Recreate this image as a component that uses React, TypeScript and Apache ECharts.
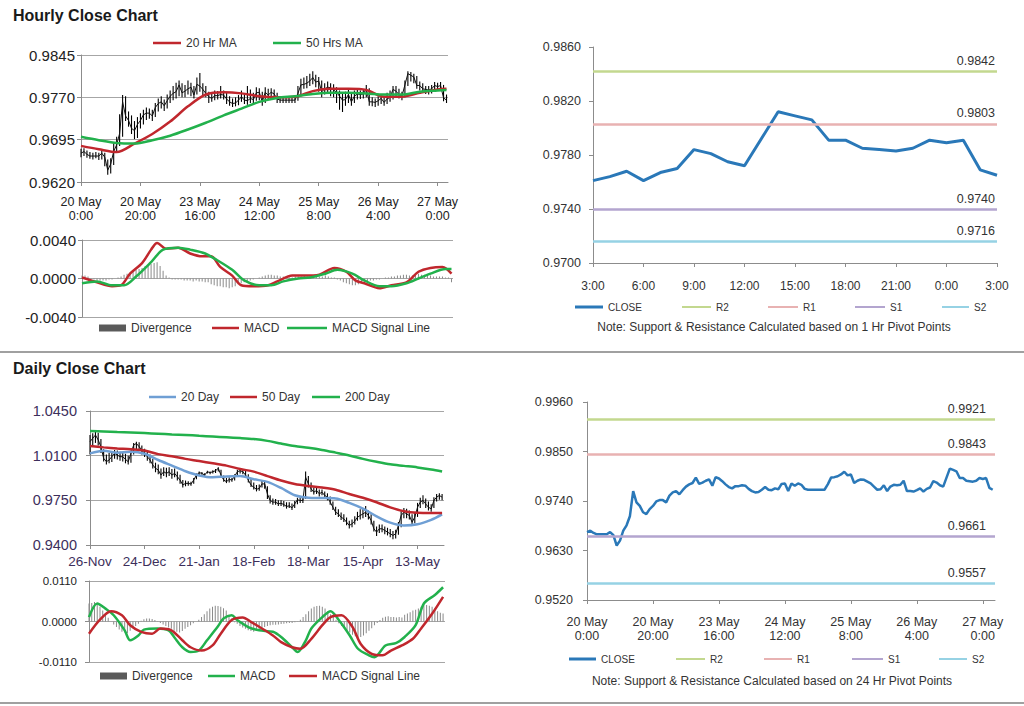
import React, { useEffect, useRef } from "react";
import * as echarts from "echarts";

const FONT = '"Liberation Sans", Arial, Helvetica, sans-serif';

// ---------------- Hourly data (20 May 0:00 .. 27 May 3:00) ----------------
const hourlyTickIdx = [0, 20, 40, 60, 80, 100, 120];
const hourlyTickLabels = ["20 May\n0:00", "20 May\n20:00", "23 May\n16:00", "24 May\n12:00", "25 May\n8:00", "26 May\n4:00", "27 May\n0:00"];

const hourlyClose = [
  0.9671, 0.9674, 0.9669, 0.9666, 0.9666, 0.9666, 0.9666, 0.9671, 0.9664, 0.9641,
  0.9652, 0.9674, 0.9686, 0.9706, 0.9762, 0.9737, 0.9729, 0.9715, 0.9711, 0.9722,
  0.9729, 0.9739, 0.9742, 0.9742, 0.9737, 0.9752, 0.9759, 0.9762, 0.9755, 0.9764,
  0.9772, 0.9777, 0.9780, 0.9792, 0.9778, 0.9781, 0.9785, 0.9788, 0.9774, 0.9793,
  0.9790, 0.9784, 0.9777, 0.9771, 0.9768, 0.9773, 0.9773, 0.9775, 0.9774, 0.9767,
  0.9762, 0.9759, 0.9760, 0.9765, 0.9771, 0.9765, 0.9764, 0.9768, 0.9766, 0.9778,
  0.9779, 0.9762, 0.9779, 0.9774, 0.9779, 0.9776, 0.9767, 0.9765, 0.9765, 0.9765,
  0.9765, 0.9765, 0.9765, 0.9777, 0.9792, 0.9793, 0.9795, 0.9799, 0.9805, 0.9797,
  0.9799, 0.9780, 0.9785, 0.9788, 0.9787, 0.9783, 0.9779, 0.9772, 0.9765, 0.9766,
  0.9775, 0.9762, 0.9772, 0.9776, 0.9775, 0.9776, 0.9785, 0.9762, 0.9762,
  0.9761, 0.9764, 0.9768, 0.9761, 0.9767, 0.9770, 0.9784, 0.9781, 0.9775, 0.9772,
  0.9792, 0.9812, 0.9809, 0.9806, 0.9791, 0.9791, 0.9785, 0.9784, 0.9783, 0.9785,
  0.9791, 0.9789, 0.9791, 0.9769, 0.9765,
];
const hourlyHigh = [
  0.9679, 0.9680, 0.9676, 0.9673, 0.9672, 0.9673, 0.9672, 0.9676, 0.9672, 0.9660,
  0.9662, 0.9690, 0.9700, 0.9740, 0.9774, 0.9772, 0.9745, 0.9738, 0.9728, 0.9735,
  0.9742, 0.9748, 0.9752, 0.9750, 0.9748, 0.9760, 0.9768, 0.9772, 0.9766, 0.9775,
  0.9782, 0.9790, 0.9796, 0.9800, 0.9795, 0.9792, 0.9800, 0.9796, 0.9790, 0.9805,
  0.9813, 0.9795, 0.9790, 0.9780, 0.9778, 0.9782, 0.9781, 0.9790, 0.9782, 0.9778,
  0.9772, 0.9768, 0.9770, 0.9774, 0.9782, 0.9775, 0.9790, 0.9784, 0.9778, 0.9788,
  0.9786, 0.9780, 0.9788, 0.9785, 0.9786, 0.9784, 0.9778, 0.9772, 0.9770, 0.9770,
  0.9770, 0.9770, 0.9770, 0.9790, 0.9803, 0.9805, 0.9808, 0.9812, 0.9816, 0.9810,
  0.9806, 0.9800, 0.9795, 0.9798, 0.9795, 0.9793, 0.9788, 0.9782, 0.9778, 0.9780,
  0.9785, 0.9778, 0.9782, 0.9785, 0.9782, 0.9784, 0.9792, 0.9786, 0.9770,
  0.9768, 0.9772, 0.9776, 0.9772, 0.9778, 0.9782, 0.9790, 0.9790, 0.9785, 0.9780,
  0.9800, 0.9816, 0.9815, 0.9812, 0.9808, 0.9798, 0.9795, 0.9790, 0.9790, 0.9792,
  0.9797, 0.9796, 0.9797, 0.9792, 0.9775,
];
const hourlyLow = [
  0.9664, 0.9666, 0.9663, 0.9661, 0.9660, 0.9662, 0.9659, 0.9660, 0.9648, 0.9633,
  0.9635, 0.9650, 0.9672, 0.9684, 0.9700, 0.9728, 0.9718, 0.9705, 0.9696, 0.9698,
  0.9715, 0.9722, 0.9730, 0.9732, 0.9728, 0.9735, 0.9745, 0.9750, 0.9746, 0.9750,
  0.9760, 0.9765, 0.9768, 0.9772, 0.9770, 0.9770, 0.9775, 0.9772, 0.9768, 0.9775,
  0.9780, 0.9772, 0.9770, 0.9760, 0.9762, 0.9765, 0.9766, 0.9768, 0.9766, 0.9758,
  0.9755, 0.9753, 0.9754, 0.9756, 0.9762, 0.9758, 0.9757, 0.9760, 0.9758, 0.9764,
  0.9765, 0.9755, 0.9760, 0.9766, 0.9768, 0.9768, 0.9760, 0.9760, 0.9760, 0.9760,
  0.9760, 0.9760, 0.9760, 0.9764, 0.9774, 0.9785, 0.9786, 0.9790, 0.9793, 0.9788,
  0.9780, 0.9770, 0.9775, 0.9778, 0.9772, 0.9770, 0.9760, 0.9748, 0.9744, 0.9755,
  0.9760, 0.9755, 0.9760, 0.9766, 0.9767, 0.9768, 0.9770, 0.9755, 0.9754,
  0.9753, 0.9755, 0.9758, 0.9755, 0.9758, 0.9762, 0.9766, 0.9772, 0.9768, 0.9765,
  0.9770, 0.9790, 0.9798, 0.9795, 0.9785, 0.9782, 0.9778, 0.9776, 0.9775, 0.9777,
  0.9780, 0.9781, 0.9782, 0.9763, 0.9760,
];

const hourlyMaIdx = [0, 6, 12, 18, 24, 30, 36, 42, 48, 54, 60, 66, 72, 78, 84, 90, 96, 102, 108, 114, 120, 123];
const hourlyMa20 = [0.9684, 0.9678, 0.9673, 0.9688, 0.9705, 0.9727, 0.9754, 0.9775, 0.9779, 0.9777, 0.9772, 0.9770, 0.9771, 0.9781, 0.9785, 0.9785, 0.9783, 0.9771, 0.9771, 0.9778, 0.9784, 0.9785];
const hourlyMa50 = [0.9700, 0.9694, 0.9689, 0.9688, 0.9694, 0.9702, 0.9713, 0.9725, 0.9738, 0.9750, 0.9762, 0.9769, 0.9772, 0.9776, 0.9778, 0.9778, 0.9777, 0.9775, 0.9775, 0.9780, 0.9782, 0.9783];

const hourlyMacdIdx = [0, 5, 10, 13, 16, 20, 23, 25, 28, 32, 36, 40, 43, 46, 50, 53, 57, 62, 65, 70, 74, 79, 84, 88, 91, 94, 99, 103, 108, 112, 116, 120, 123];
const hourlyMacd = [0.0001, -0.0004, -0.0008, -0.0007, 0.0005, 0.0016, 0.0030, 0.0037, 0.0031, 0.0032, 0.0026, 0.0023, 0.0023, 0.0012, 0.0003, -0.0007, -0.0008, -0.0007, -0.0003, 0.0003, 0.0003, 0.0004, 0.0011, 0.0007, -0.0002, -0.0005, -0.0010, -0.0007, -0.0004, 0.0007, 0.0011, 0.0012, 0.0005];
const hourlySignalIdx = [0, 5, 10, 14, 18, 23, 27, 32, 36, 41, 45, 50, 54, 59, 63, 67, 72, 76, 81, 85, 90, 94, 99, 103, 108, 112, 116, 121, 123];
const hourlySignal = [-0.0005, -0.0003, -0.0007, -0.0007, 0.0002, 0.0017, 0.0030, 0.0032, 0.0030, 0.0026, 0.0019, 0.0009, -0.0002, -0.0007, -0.0007, -0.0003, 0.0000, 0.0001, 0.0005, 0.0009, 0.0005, -0.0002, -0.0008, -0.0008, -0.0005, 0.0000, 0.0005, 0.0010, 0.0010];
const hourlyDivergence = [
  0.0003, 0.0003, 0.0002, -0.0001, -0.0001, -0.0002, -0.0002, -0.0002, -0.0002, -0.0001,
  -0.0001, 0.0000, 0.0001, 0.0002, 0.0004, 0.0005, 0.0006, 0.0008, 0.0009, 0.0010,
  0.0011, 0.0013, 0.0014, 0.0015, 0.0016, 0.0017, 0.0013, 0.0008, 0.0003, 0.0001,
  -0.0001, -0.0001, -0.0001, -0.0001, -0.0002, -0.0002, -0.0002, -0.0003, -0.0002, -0.0003,
  -0.0003, -0.0004, -0.0004, -0.0006, -0.0007, -0.0008, -0.0008, -0.0009, -0.0009, -0.0010,
  -0.0009, -0.0008, -0.0006, -0.0005, -0.0004, -0.0003, -0.0002, -0.0001, 0.0000, 0.0001,
  0.0002, 0.0003, 0.0004, 0.0004, 0.0003, 0.0003, 0.0002, 0.0002, 0.0001, 0.0001,
  0.0001, 0.0002, 0.0002, 0.0002, 0.0003, 0.0002, 0.0002, 0.0003, 0.0003, 0.0002,
  0.0002, 0.0003, 0.0002, 0.0001, 0.0001, -0.0001, -0.0002, -0.0004, -0.0005, -0.0006,
  -0.0007, -0.0007, -0.0006, -0.0005, -0.0004, -0.0003, -0.0002, -0.0002, -0.0001, -0.0001,
  0.0000, 0.0001, 0.0001, 0.0002, 0.0002, 0.0003, 0.0003, 0.0004, 0.0004, 0.0003,
  0.0003, 0.0004, 0.0005, 0.0004, 0.0004, 0.0003, 0.0003, 0.0002, 0.0002, 0.0002,
  0.0002, 0.0001, 0.0001, -0.0004,
];

// ---------------- Pivot panels ----------------
const pivotHourLabels = ["3:00", "6:00", "9:00", "12:00", "15:00", "18:00", "21:00", "0:00", "3:00"];
const pivotNames = ["R2", "R1", "S1", "S2"];
const pivot1h = [0.9842, 0.9803, 0.974, 0.9716];
const pivot24h = [0.9921, 0.9843, 0.9661, 0.9557];
const pivotColors = ["#c3d88f", "#e8b2b2", "#b3a5cf", "#96d2e4"];

// ---------------- Daily data (26-Nov .. 26-May) ----------------
const dailyTickIdx = [0, 20, 40, 60, 80, 100, 120];
const dailyTickLabels = ["26-Nov", "24-Dec", "21-Jan", "18-Feb", "18-Mar", "15-Apr", "13-May"];
const dailyClose = [
  1.021, 1.0236, 1.0262, 1.0223, 1.017, 1.0079, 1.0053, 1.0066, 1.0092, 1.0118,
  1.0105, 1.0092, 1.0092, 1.0071, 1.0053, 1.0118, 1.0183, 1.0196, 1.017, 1.0144,
  1.0118, 1.0092, 1.0066, 1.0027, 1.0001, 0.9988, 0.9948, 0.9974, 0.9961, 0.9974,
  0.9948, 0.9961, 0.9935, 0.9909, 0.987, 0.9883, 0.9883, 0.9878, 0.9909, 0.9948,
  0.9967, 0.9961, 0.9948, 0.9974, 0.9967, 0.9974, 0.9982, 1.0001, 0.9948, 0.9909,
  0.9896, 0.9914, 0.9909, 0.994, 0.9974, 0.9982, 0.9974, 0.9948, 0.9909, 0.987,
  0.9852, 0.9836, 0.9844, 0.9878, 0.9879, 0.98, 0.9749, 0.9736, 0.9736, 0.9722,
  0.9727, 0.9717, 0.9702, 0.9707, 0.9691, 0.9722, 0.9754, 0.9749, 0.9749, 0.9931,
  0.9879, 0.984, 0.9814, 0.9827, 0.9801, 0.9814, 0.9788, 0.9775, 0.9736, 0.9696,
  0.9657, 0.9644, 0.9618, 0.9605, 0.9579, 0.9553, 0.9566, 0.9587, 0.9618, 0.9631,
  0.9644, 0.9657, 0.9631, 0.9592, 0.9527, 0.9501, 0.9527, 0.9527, 0.9514, 0.9501,
  0.9488, 0.9475, 0.9488, 0.9553, 0.9631, 0.9657, 0.9644, 0.9631, 0.9579, 0.9618,
  0.9696, 0.9736, 0.9749, 0.9722, 0.9696, 0.9683, 0.9749, 0.9775, 0.9788, 0.9775,
];
const dailyHigh = [
  1.0262, 1.0275, 1.029, 1.028, 1.023, 1.015, 1.011, 1.012, 1.0135, 1.0145,
  1.014, 1.013, 1.0125, 1.0115, 1.01, 1.014, 1.02, 1.021, 1.0205, 1.018,
  1.0155, 1.013, 1.011, 1.0075, 1.0045, 1.003, 1.0, 1.001, 1.0005, 1.001,
  0.9995, 1.0, 0.9975, 0.995, 0.991, 0.9905, 0.99, 0.9895, 0.9925, 0.996,
  0.9975, 0.9972, 0.9962, 0.9982, 0.9975, 0.9985, 0.9995, 1.001, 0.999, 0.9945,
  0.9925, 0.993, 0.9925, 0.9955, 0.999, 1.0, 0.9995, 0.9985, 0.9955, 0.992,
  0.989, 0.987, 0.9875, 0.9905, 0.9905, 0.986, 0.979, 0.9765, 0.976, 0.975,
  0.975, 0.9745, 0.9735, 0.9735, 0.9725, 0.9745, 0.977, 0.977, 0.9775, 0.9975,
  0.994, 0.989, 0.985, 0.985, 0.9835, 0.9835, 0.982, 0.9805, 0.978, 0.974,
  0.97, 0.968, 0.9655, 0.964, 0.9615, 0.959, 0.96, 0.9625, 0.966, 0.968,
  0.969, 0.9705, 0.967, 0.964, 0.959, 0.9545, 0.956, 0.956, 0.9545, 0.9535,
  0.9525, 0.951, 0.952, 0.958, 0.9665, 0.969, 0.9685, 0.967, 0.964, 0.965,
  0.973, 0.977, 0.979, 0.9765, 0.974, 0.972, 0.9775, 0.98, 0.9805, 0.98,
];
const dailyLow = [
  1.011, 1.0175, 1.02, 1.018, 1.012, 1.0055, 1.003, 1.004, 1.005, 1.0075,
  1.007, 1.006, 1.0055, 1.004, 1.003, 1.0045, 1.011, 1.015, 1.014, 1.011,
  1.009, 1.006, 1.004, 1.0, 0.997, 0.9955, 0.992, 0.994, 0.993, 0.994,
  0.992, 0.993, 0.9905, 0.988, 0.985, 0.986, 0.9865, 0.9865, 0.988, 0.9915,
  0.9945, 0.995, 0.994, 0.996, 0.9955, 0.996, 0.9965, 0.9975, 0.9935, 0.9895,
  0.9885, 0.989, 0.9895, 0.9905, 0.9935, 0.996, 0.9955, 0.993, 0.989, 0.9855,
  0.9835, 0.982, 0.9825, 0.985, 0.984, 0.976, 0.9725, 0.9715, 0.9715, 0.9705,
  0.9705, 0.97, 0.9685, 0.969, 0.9675, 0.969, 0.972, 0.973, 0.973, 0.976,
  0.985, 0.9815, 0.9795, 0.98, 0.978, 0.979, 0.9765, 0.975, 0.9715, 0.9675,
  0.9635, 0.962, 0.9595, 0.958, 0.9555, 0.953, 0.954, 0.956, 0.959, 0.96,
  0.961, 0.962, 0.96, 0.956, 0.9505, 0.947, 0.9495, 0.95, 0.9485, 0.9475,
  0.946, 0.9445, 0.945, 0.948, 0.954, 0.961, 0.961, 0.96, 0.955, 0.957,
  0.962, 0.969, 0.972, 0.969, 0.967, 0.966, 0.969, 0.974, 0.9755, 0.975,
];
const dailyMaIdx = [0, 5, 10, 15, 20, 25, 30, 35, 40, 45, 50, 55, 60, 65, 70, 75, 80, 85, 90, 95, 100, 105, 110, 115, 120, 125, 129];
const dailyMa20 = [1.0118, 1.0138, 1.0123, 1.013, 1.0115, 1.0066, 1.0022, 0.9978, 0.9945, 0.993, 0.9937, 0.994, 0.9915, 0.9895, 0.9847, 0.979, 0.977, 0.9768, 0.9765, 0.973, 0.9685, 0.9625, 0.9575, 0.9553, 0.9562, 0.9597, 0.964];
const dailyMa50 = [1.0175, 1.0165, 1.0157, 1.015, 1.014, 1.0112, 1.0095, 1.0075, 1.0058, 1.004, 1.0022, 0.9995, 0.9975, 0.994, 0.9905, 0.9878, 0.9862, 0.985, 0.9833, 0.98, 0.977, 0.9735, 0.9695, 0.9665, 0.9652, 0.965, 0.965];
const dailyMa200 = [1.0293, 1.029, 1.0285, 1.0281, 1.0277, 1.0272, 1.0266, 1.0262, 1.0256, 1.025, 1.0244, 1.0238, 1.023, 1.0216, 1.0195, 1.0176, 1.0162, 1.0145, 1.0124, 1.0102, 1.0075, 1.0052, 1.0032, 1.002, 1.0008, 0.9992, 0.9976];

const dailyMacdIdx = [0, 3, 6, 9, 13, 15, 18, 20, 25, 29, 31, 34, 37, 40, 43, 47, 49, 52, 54, 58, 62, 67, 70, 74, 76, 79, 81, 85, 88, 91, 95, 98, 102, 104, 108, 112, 115, 119, 122, 126, 129];
const dailyMacd = [0.0012, 0.0049, 0.0035, 0.0017, -0.0024, -0.0051, -0.0038, -0.0022, -0.0019, -0.0024, -0.0042, -0.007, -0.0083, -0.0079, -0.0051, -0.0013, 0.0008, 0.0017, 0.0004, -0.0015, -0.0024, -0.0028, -0.0042, -0.007, -0.0083, -0.0051, -0.0019, 0.0012, 0.0028, 0.0004, -0.0038, -0.0074, -0.0092, -0.0097, -0.0065, -0.0058, -0.0042, -0.001, 0.0049, 0.0072, 0.0093];
const dailySignalIdx = [0, 4, 8, 12, 15, 19, 23, 26, 30, 34, 37, 41, 45, 48, 52, 56, 59, 63, 67, 70, 74, 77, 81, 85, 88, 92, 96, 99, 103, 107, 110, 114, 118, 121, 125, 129];
const dailySignal = [-0.0033, 0.0005, 0.0028, 0.0017, -0.001, -0.0028, -0.0033, -0.0019, -0.0024, -0.0051, -0.007, -0.0079, -0.0065, -0.0033, 0.0004, 0.0011, -0.0001, -0.0019, -0.0038, -0.0056, -0.007, -0.0074, -0.0047, -0.001, 0.0012, 0.0017, -0.0015, -0.0061, -0.0088, -0.0092, -0.0079, -0.0065, -0.0047, -0.0019, 0.0021, 0.0067];
const dailyDivergence = [
  0.0049, 0.005, 0.0053, 0.005, 0.004, 0.003, 0.002, 0.001, 0.0, -0.0008,
  -0.0015, -0.0022, -0.0028, -0.003, -0.0032, -0.0025, -0.0018, -0.0012, -0.0006, 0.0002,
  0.0006, 0.0008, 0.0008, 0.0007, 0.0004, 0.0001, -0.0004, -0.0008, -0.0012, -0.0016,
  -0.002, -0.0025, -0.0028, -0.003, -0.0026, -0.002, -0.0015, -0.001, -0.0005, 0.0,
  0.0005, 0.0012, 0.002, 0.0028, 0.0035, 0.004, 0.0043, 0.0042, 0.004, 0.0036,
  0.003, 0.0018, 0.0008, -0.0002, -0.0006, -0.0012, -0.0016, -0.002, -0.0024, -0.0026,
  -0.0028, -0.0026, -0.0022, -0.0018, -0.0015, -0.0012, -0.001, -0.0009, -0.0009, -0.0008,
  -0.0007, -0.0006, -0.0005, -0.0004, -0.0004, -0.0002, -0.0001, 0.0005, 0.0012, 0.002,
  0.0028, 0.0035, 0.004, 0.0042, 0.0043, 0.004, 0.0035, 0.0028, 0.002, 0.0012,
  0.0005, -0.0005, -0.0012, -0.0018, -0.0025, -0.003, -0.0036, -0.004, -0.0045, -0.0042,
  -0.0038, -0.0032, -0.0025, -0.0018, -0.001, -0.0004, 0.0004, 0.001, 0.0013, 0.0014,
  0.0012, 0.0012, 0.0011, 0.0012, 0.0011, 0.0018, 0.0022, 0.0025, 0.003, 0.0032,
  0.0035, 0.004, 0.0044, 0.0045, 0.0043, 0.004, 0.0035, 0.0028, 0.0024, 0.0022,
];

// ---------------- helpers ----------------
const pip = (v: number, base: number) => Math.round((v - base) * 100000) / 10;
const seq = (arr: number[], base: number) => arr.map((v, i) => [i, pip(v, base)]);
const pairs = (idx: number[], arr: number[], base: number) => idx.map((x, k) => [x, pip(arr[k], base)]);
const stripName = (n: string) => n.split("|")[1];

function line(name: string, gi: number, data: any[], color: string, width: number, z: number, smooth: any = false) {
  return {
    name, type: "line", xAxisIndex: gi, yAxisIndex: gi, data, symbol: "none", showSymbol: false,
    smooth, color, lineStyle: { color, width }, itemStyle: { color }, z, silent: true,
  };
}

function hiLo(name: string, gi: number, lows: number[], highs: number[], base: number) {
  return {
    name, type: "custom", xAxisIndex: gi, yAxisIndex: gi, silent: true, z: 1,
    data: lows.map((lo, i) => [i, pip(lo, base), pip(highs[i], base)]),
    encode: { x: 0, y: [1, 2] },
    renderItem: (_p: any, api: any) => {
      const a = api.coord([api.value(0), api.value(1)]);
      const b = api.coord([api.value(0), api.value(2)]);
      return { type: "line", shape: { x1: a[0], y1: a[1], x2: b[0], y2: b[1] }, style: { stroke: "#000000", lineWidth: 1.1 } };
    },
  };
}

function bars(name: string, gi: number, arr: number[]) {
  return {
    name, type: "bar", xAxisIndex: gi, yAxisIndex: gi, barWidth: 1,
    data: arr.map((v, i) => [i, pip(v, 0)]), color: "#8a8a8a", itemStyle: { color: "#8a8a8a" }, z: 1, silent: true,
  };
}

function pivotSeries(prefix: string, gi: number, values: number[], base: number, fontSize: number, dx: number) {
  return pivotNames.map((n, k) => ({
    name: prefix + "|" + n, type: "line", xAxisIndex: gi, yAxisIndex: gi, data: [], symbol: "none",
    color: pivotColors[k], lineStyle: { color: pivotColors[k], width: 2 }, itemStyle: { color: pivotColors[k] },
    markLine: {
      silent: true, symbol: ["none", "none"], animation: false,
      lineStyle: { color: pivotColors[k], width: 2.5, type: "solid" },
      label: {
        show: true, position: "insideEndTop", formatter: values[k].toFixed(4), color: "#333",
        fontSize, fontFamily: FONT, distance: [dx, 4],
      },
      emphasis: { disabled: true },
      data: [{ yAxis: pip(values[k], base) }],
    },
    z: 2,
  }));
}

// legend item: thin rect icon for lines, block for divergence
function leg(name: string, left: number, cy: number, w: number, fontSize: number, color: string, h = 2.5) {
  const textH = Math.round(fontSize * 1.2);
  return {
    show: true, left, top: cy - textH / 2, padding: 0, itemGap: 0, itemWidth: w, itemHeight: h,
    selectedMode: false, icon: "rect",
    data: [{ name, icon: "rect", itemStyle: { color, borderWidth: 0 } }],
    formatter: stripName,
    textStyle: { fontSize, color: "#333", fontFamily: FONT },
  };
}

const axisGray = "#8c8c8c";
const gridGray = "#a6a6a6";

function yAxis(gi: number, min: number, max: number, interval: number, fmt: (v: number) => string, o: any) {
  return {
    type: "value", gridIndex: gi, min, max, interval,
    axisLine: { show: true, lineStyle: { color: axisGray } },
    axisTick: { show: true, length: 4, lineStyle: { color: axisGray } },
    splitLine: { show: o.split, lineStyle: { color: gridGray, width: 1 } },
    axisLabel: { formatter: fmt, fontSize: o.fs, color: o.color || "#222", margin: o.margin, fontFamily: FONT },
  };
}

function xAxisTicks(gi: number, max: number, idx: number[], labels: string[], o: any) {
  return {
    type: "value", gridIndex: gi, min: 0, max,
    axisLine: { show: true, onZero: false, lineStyle: { color: axisGray } },
    axisTick: { show: true, length: 4, customValues: idx, lineStyle: { color: axisGray } },
    splitLine: { show: false },
    axisLabel: {
      customValues: idx, formatter: (v: number) => labels[idx.indexOf(Math.round(v))] ?? "",
      fontSize: o.fs, color: o.color || "#222", margin: o.margin, lineHeight: 14, fontFamily: FONT,
    },
  };
}

function buildOption() {
  const hb = 0.962; // top-left base
  const cb = 0.97; // top-right base
  const fb = 0.952; // bottom-right base
  const db = 0.94; // daily base
  const last25 = hourlyClose.slice(-25);
  const red = "#c0272d";
  const green = "#22b14c";
  const blue = "#2a78b8";
  const divGray = "#5a5a5a";

  return {
    animation: false,
    backgroundColor: "#ffffff",
    textStyle: { fontFamily: FONT },
    grid: [
      { left: 81, top: 55, width: 367, height: 127, outerBoundsMode: "none" },
      { left: 82, top: 240, width: 371, height: 77, outerBoundsMode: "none" },
      { left: 593, top: 47, width: 404, height: 216, outerBoundsMode: "none" },
      { left: 90, top: 411, width: 354, height: 134, outerBoundsMode: "none" },
      { left: 89, top: 581, width: 356, height: 81, outerBoundsMode: "none" },
      { left: 587, top: 402, width: 408, height: 198, outerBoundsMode: "none" },
    ],
    xAxis: [
      xAxisTicks(0, 123.5, hourlyTickIdx, hourlyTickLabels, { fs: 12.5, margin: 13 }),
      { type: "value", gridIndex: 1, min: 0, max: 123.5, show: false, splitLine: { show: false } },
      {
        type: "value", gridIndex: 2, min: 0, max: 24, interval: 3,
        axisLine: { show: true, onZero: false, lineStyle: { color: axisGray } },
        axisTick: { show: true, length: 4, lineStyle: { color: axisGray } },
        splitLine: { show: false },
        axisLabel: { formatter: (v: number) => pivotHourLabels[Math.round(v / 3)] ?? "", fontSize: 12, color: "#333", margin: 17, fontFamily: FONT },
      },
      xAxisTicks(3, 129.7, dailyTickIdx, dailyTickLabels, { fs: 13.5, margin: 9, color: "#3d2f5b" }),
      { type: "value", gridIndex: 4, min: 0, max: 129.7, show: false, splitLine: { show: false } },
      xAxisTicks(5, 123.7, hourlyTickIdx, hourlyTickLabels, { fs: 12.5, margin: 15, color: "#333" }),
    ],
    yAxis: [
      yAxis(0, 0, 225, 75, (v) => (hb + v / 10000).toFixed(4), { split: true, fs: 15, margin: 6 }),
      yAxis(1, -40, 40, 40, (v) => (v / 10000).toFixed(4), { split: true, fs: 15, margin: 6 }),
      yAxis(2, 0, 160, 40, (v) => (cb + v / 10000).toFixed(4), { split: false, fs: 12.5, margin: 12, color: "#333" }),
      yAxis(3, 0, 1050, 350, (v) => (db + v / 10000).toFixed(4), { split: true, fs: 14.5, margin: 13, color: "#3d2f5b" }),
      yAxis(4, -110, 110, 110, (v) => (v / 10000).toFixed(4), { split: true, fs: 11.5, margin: 12, color: "#222" }),
      yAxis(5, 0, 440, 110, (v) => (fb + v / 10000).toFixed(4), { split: false, fs: 12.5, margin: 14, color: "#333" }),
    ],
    legend: [
      leg("a|20 Hr MA", 153, 44, 28, 12, red),
      leg("a|50 Hrs MA", 273, 44, 28, 12, green),
      leg("b|Divergence", 99, 329, 27, 12, divGray, 7),
      leg("b|MACD", 212, 329, 27, 12, red),
      leg("b|MACD Signal Line", 287, 329, 40, 12, green),
      leg("c|CLOSE", 575, 308, 28, 10, blue, 3),
      leg("c|R2", 682, 308, 29, 10, pivotColors[0], 2),
      leg("c|R1", 768, 308, 30, 10, pivotColors[1], 2),
      leg("c|S1", 855, 308, 30, 10, pivotColors[2], 2),
      leg("c|S2", 942, 308, 27, 10, pivotColors[3], 2),
      leg("d|20 Day", 149, 398, 27, 12, "#6f9fd4"),
      leg("d|50 Day", 230, 398, 27, 12, red),
      leg("d|200 Day", 312, 398, 28, 12, green),
      leg("e|Divergence", 100, 677, 27, 12, divGray, 7),
      leg("e|MACD", 208, 677, 27, 12, green),
      leg("e|MACD Signal Line", 289, 677, 28, 12, red),
      leg("f|CLOSE", 569, 660, 27, 10, blue, 3),
      leg("f|R2", 676, 660, 29, 10, pivotColors[0], 2),
      leg("f|R1", 764, 660, 28, 10, pivotColors[1], 2),
      leg("f|S1", 852, 660, 31, 10, pivotColors[2], 2),
      leg("f|S2", 939, 660, 28, 10, pivotColors[3], 2),
    ],
    series: [
      // A: hourly price
      hiLo("a|range", 0, hourlyLow, hourlyHigh, hb),
      line("a|close", 0, seq(hourlyClose, hb), "#111111", 1, 1),
      line("a|20 Hr MA", 0, pairs(hourlyMaIdx, hourlyMa20, hb), red, 2.5, 3, 0.3),
      line("a|50 Hrs MA", 0, pairs(hourlyMaIdx, hourlyMa50, hb), green, 2.5, 3, 0.3),
      // B: hourly MACD
      bars("b|Divergence", 1, hourlyDivergence),
      line("b|MACD", 1, pairs(hourlyMacdIdx, hourlyMacd, 0), red, 2.5, 3, 0.3),
      line("b|MACD Signal Line", 1, pairs(hourlySignalIdx, hourlySignal, 0), green, 2.5, 3, 0.3),
      // C: 1 Hr pivots
      line("c|CLOSE", 2, seq(last25, cb), blue, 3, 3),
      ...pivotSeries("c", 2, pivot1h, cb, 12.5, 2),
      // D: daily price
      hiLo("d|range", 3, dailyLow, dailyHigh, db),
      line("d|close", 3, seq(dailyClose, db), "#111111", 1, 1),
      line("d|20 Day", 3, pairs(dailyMaIdx, dailyMa20, db), "#6f9fd4", 2.5, 3, 0.3),
      line("d|50 Day", 3, pairs(dailyMaIdx, dailyMa50, db), red, 2.5, 3, 0.3),
      line("d|200 Day", 3, pairs(dailyMaIdx, dailyMa200, db), green, 2.5, 3, 0.3),
      // E: daily MACD
      bars("e|Divergence", 4, dailyDivergence),
      line("e|MACD", 4, pairs(dailyMacdIdx, dailyMacd, 0), green, 2.5, 3, 0.3),
      line("e|MACD Signal Line", 4, pairs(dailySignalIdx, dailySignal, 0), red, 2.5, 3, 0.3),
      // F: 24 Hr pivots
      line("f|CLOSE", 5, seq(hourlyClose, fb), blue, 2.5, 3),
      ...pivotSeries("f", 5, pivot24h, fb, 12.5, 9),
    ],
    graphic: [
      { type: "text", left: 13, top: 7, style: { text: "Hourly Close Chart", fontSize: 16, fontWeight: "bold", fontFamily: FONT, fill: "#1a1a1a" } },
      { type: "text", left: 13, top: 360, style: { text: "Daily Close Chart", fontSize: 16, fontWeight: "bold", fontFamily: FONT, fill: "#1a1a1a" } },
      { type: "line", shape: { x1: 0, y1: 352, x2: 1024, y2: 352 }, style: { stroke: "#a0a0a0", lineWidth: 2 } },
      { type: "line", shape: { x1: 0, y1: 703, x2: 1024, y2: 703 }, style: { stroke: "#a0a0a0", lineWidth: 2 } },
      {
        type: "text", x: 774, y: 327,
        style: { text: "Note: Support & Resistance Calculated based on 1 Hr Pivot Points", fontSize: 12, fontFamily: FONT, fill: "#333", align: "center", verticalAlign: "middle" },
      },
      {
        type: "text", x: 772, y: 681,
        style: { text: "Note: Support & Resistance Calculated based on 24 Hr Pivot Points", fontSize: 12, fontFamily: FONT, fill: "#333", align: "center", verticalAlign: "middle" },
      },
    ],
  };
}

export default function App() {
  const ref = useRef<HTMLDivElement>(null);
  useEffect(() => {
    if (!ref.current) return;
    const chart = echarts.init(ref.current, null, { renderer: "svg" });
    chart.setOption(buildOption() as any);
    return () => chart.dispose();
  }, []);
  return (
    <div
      ref={ref}
      style={{ position: "absolute", left: 0, top: 0, width: 1024, height: 706, background: "#ffffff" }}
    />
  );
}
